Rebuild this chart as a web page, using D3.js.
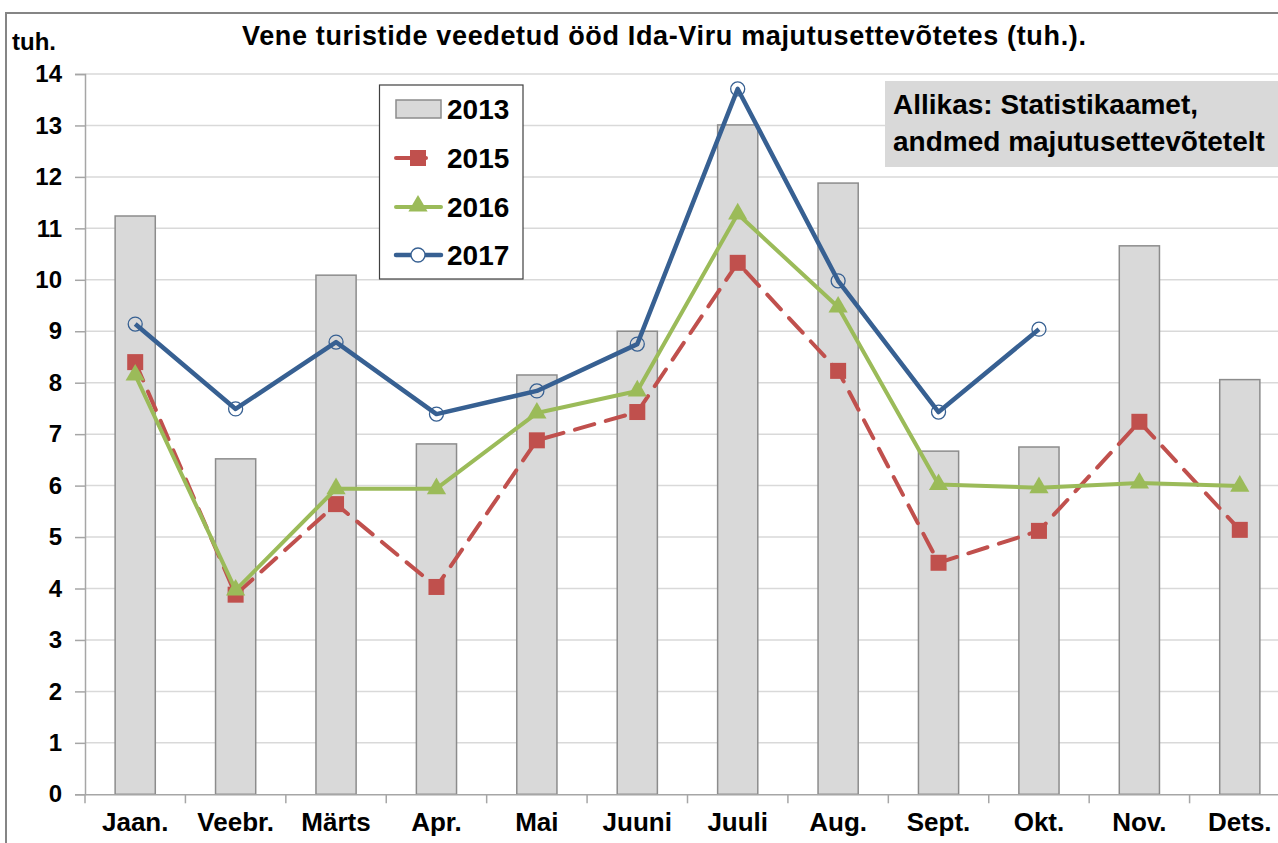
<!DOCTYPE html>
<html><head><meta charset="utf-8">
<script src="https://cdn.jsdelivr.net/npm/d3@7"></script>
<style>
body{margin:0;background:#fff;}
text{font-family:"Liberation Sans",Arial,sans-serif;font-weight:bold;fill:#000;}
</style></head>
<body>
<svg id="c" width="1278" height="843"></svg>
<script>
const months = ["Jaan.","Veebr.","Märts","Apr.","Mai","Juuni","Juuli","Aug.","Sept.","Okt.","Nov.","Dets."];
const v2013 = [11.24,6.52,10.09,6.81,8.15,9.0,13.01,11.88,6.67,6.75,10.66,8.06];
const v2015 = [8.40,3.88,5.64,4.03,6.88,7.43,10.33,8.23,4.50,5.12,7.24,5.14];
const v2016 = [8.15,3.97,5.94,5.94,7.41,7.84,11.28,9.47,6.02,5.96,6.05,5.99];
const v2017 = [9.14,7.49,8.79,7.39,7.84,8.75,13.71,9.98,7.43,9.04,null,null];
const yTicks = [0,1,2,3,4,5,6,7,8,9,10,11,12,13,14];
const title = "Vene turistide veedetud ööd Ida-Viru majutusettevõtetes (tuh.).";
const unitLabel = "tuh.";
const sourceLines = ["Allikas: Statistikaamet,","andmed majutusettevõtetelt"];
const seriesNames = ["2013","2015","2016","2017"];

const svg = d3.select("#c");
const pLeft = 85, pRight = 1290, pTop = 74, pBottom = 794.3;

// outer chart border
svg.append("rect").attr("x",6).attr("y",13).attr("width",1300).attr("height",900)
  .attr("fill","none").attr("stroke","#858585").attr("stroke-width",2);

const x = d3.scaleBand().domain(months).range([pLeft,pRight]).paddingInner(0.6).paddingOuter(0.3);
const y = d3.scaleLinear().domain([0,14]).range([pBottom,pTop]);
const cx = m => x(m) + x.bandwidth()/2;

// gridlines
svg.append("g").selectAll("line").data(yTicks.filter(t=>t>0)).join("line")
  .attr("x1",pLeft).attr("x2",1278).attr("y1",d=>y(d)).attr("y2",d=>y(d))
  .attr("stroke","#d9d9d9").attr("stroke-width",1.5);

// y axis
const yAxis = svg.append("g").attr("transform",`translate(${pLeft},0)`)
  .call(d3.axisLeft(y).tickValues(yTicks).tickSize(10).tickPadding(13));
yAxis.select(".domain").attr("stroke","#a6a6a6").attr("stroke-width",1.5);
yAxis.selectAll(".tick line").attr("stroke","#a6a6a6").attr("stroke-width",1.5);
yAxis.selectAll(".tick text").style("font-size","24px").style("font-family","Liberation Sans, Arial, sans-serif").style("font-weight","bold").attr("fill","#000");

// bars
svg.append("g").selectAll("rect").data(months).join("rect")
  .attr("x",d=>x(d)).attr("width",x.bandwidth())
  .attr("y",(d,i)=>y(v2013[i])).attr("height",(d,i)=>y(0)-y(v2013[i]))
  .attr("fill","#d9d9d9").attr("stroke","#8c8c8c").attr("stroke-width",1.5);

// x axis
const xAxis = svg.append("g").attr("transform",`translate(0,${pBottom})`)
  .call(d3.axisBottom(x).tickSize(0).tickPadding(18));
xAxis.select(".domain").attr("stroke","#a6a6a6").attr("stroke-width",1.5);
xAxis.selectAll(".tick text").style("font-size","26px").style("font-family","Liberation Sans, Arial, sans-serif").style("font-weight","bold").attr("fill","#000");
const step = x.step();
svg.append("g").selectAll("line").data(d3.range(months.length+1)).join("line")
  .attr("x1",i=>pLeft+i*step).attr("x2",i=>pLeft+i*step)
  .attr("y1",pBottom).attr("y2",pBottom+9)
  .attr("stroke","#a6a6a6").attr("stroke-width",1.5);

const line = d3.line().defined(d=>d[1]!=null).x(d=>cx(d[0])).y(d=>y(d[1]));
const pts = arr => months.map((m,i)=>[m,arr[i]]);

// 2015
svg.append("path").datum(pts(v2015)).attr("d",line).attr("fill","none")
  .attr("stroke","#c0504d").attr("stroke-width",4).attr("stroke-dasharray","20,12").attr("stroke-linecap","round");
svg.append("g").selectAll("rect").data(pts(v2015)).join("rect")
  .attr("x",d=>cx(d[0])-8).attr("y",d=>y(d[1])-8).attr("width",16).attr("height",16).attr("fill","#c0504d");

// 2016
svg.append("path").datum(pts(v2016)).attr("d",line).attr("fill","none")
  .attr("stroke","#9bbb59").attr("stroke-width",4).attr("stroke-linejoin","round");
const tri = d3.symbol().type(d3.symbolTriangle).size(160);
svg.append("g").selectAll("path").data(pts(v2016)).join("path")
  .attr("transform",d=>`translate(${cx(d[0])},${y(d[1])})`).attr("d",tri).attr("fill","#9bbb59");

// 2017
const p17 = pts(v2017).filter(d=>d[1]!=null);
svg.append("path").datum(p17).attr("d",line).attr("fill","none")
  .attr("stroke","#376092").attr("stroke-width",4.5).attr("stroke-linejoin","round");
svg.append("g").selectAll("circle").data(p17).join("circle")
  .attr("cx",d=>cx(d[0])).attr("cy",d=>y(d[1])).attr("r",7)
  .attr("fill","none").attr("stroke","#376092").attr("stroke-width",1.3);

// title
svg.append("text").attr("x",242).attr("y",45).style("font-size","27px").style("letter-spacing","0.65px").text(title);
svg.append("text").attr("x",12).attr("y",50).style("font-size","24px").text(unitLabel);

// source box
svg.append("rect").attr("x",885).attr("y",81).attr("width",400).attr("height",86).attr("fill","#d9d9d9");
svg.append("g").selectAll("text").data(sourceLines).join("text")
  .attr("x",893).attr("y",(d,i)=>114+i*37).style("font-size","28px").text(d=>d);

// legend
const lg = svg.append("g");
lg.append("rect").attr("x",379.5).attr("y",85).attr("width",143.5).attr("height",194)
  .attr("fill","#fff").attr("stroke","#404040").attr("stroke-width",1.2);
const ly = [109,158,207,255];
lg.append("rect").attr("x",396).attr("y",ly[0]-9).attr("width",45).attr("height",18)
  .attr("fill","#d9d9d9").attr("stroke","#8c8c8c").attr("stroke-width",1.5);
lg.append("line").attr("x1",396).attr("x2",426).attr("y1",ly[1]).attr("y2",ly[1])
  .attr("stroke","#c0504d").attr("stroke-width",4).attr("stroke-linecap","round");
lg.append("rect").attr("x",410).attr("y",ly[1]-8).attr("width",16).attr("height",16).attr("fill","#c0504d");
lg.append("line").attr("x1",396).attr("x2",441).attr("y1",ly[2]).attr("y2",ly[2])
  .attr("stroke","#9bbb59").attr("stroke-width",4).attr("stroke-linecap","round");
lg.append("path").attr("transform",`translate(418,${ly[2]-1})`).attr("d",tri).attr("fill","#9bbb59");
lg.append("line").attr("x1",396).attr("x2",441).attr("y1",ly[3]).attr("y2",ly[3])
  .attr("stroke","#376092").attr("stroke-width",4.5).attr("stroke-linecap","round");
lg.append("circle").attr("cx",418).attr("cy",ly[3]).attr("r",7).attr("fill","#fff").attr("stroke","#376092").attr("stroke-width",1.3);
lg.selectAll("text").data(seriesNames).join("text")
  .attr("x",447).attr("y",(d,i)=>ly[i]+10).style("font-size","28px").text(d=>d);
</script>
</body></html>
